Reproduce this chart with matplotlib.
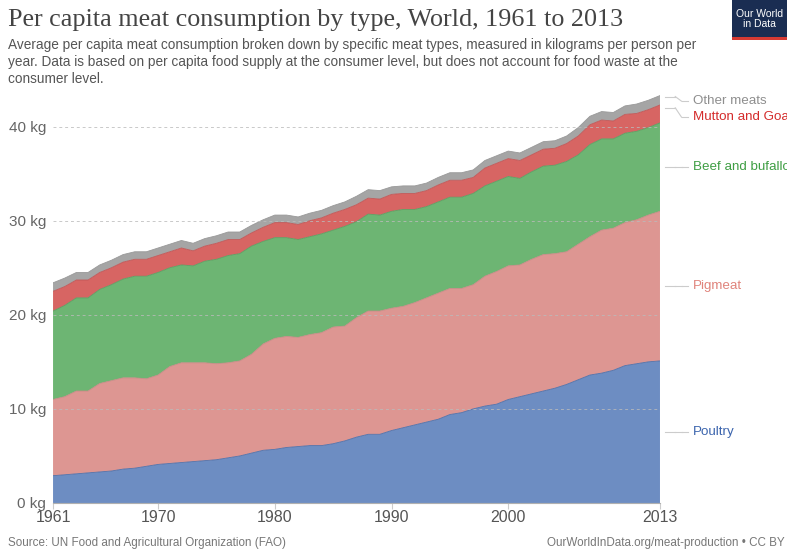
import numpy as np
import matplotlib
matplotlib.use("Agg")
import matplotlib.pyplot as plt
from matplotlib.patches import Rectangle

plt.rcParams["font.family"] = ["Liberation Sans", "DejaVu Sans"]

# ---------------------------------------------------------------- data (kg per person per year)
years = list(range(1961, 2014))

poultry = [2.9, 3.0, 3.1, 3.2, 3.3, 3.4, 3.6, 3.7, 3.9, 4.1,
           4.2, 4.3, 4.4, 4.5, 4.6, 4.8, 5.0, 5.3, 5.6, 5.7,
           5.9, 6.0, 6.1, 6.1, 6.3, 6.6, 7.0, 7.3, 7.3, 7.7,
           8.0, 8.3, 8.6, 8.9, 9.4, 9.6, 10.0, 10.3, 10.5, 11.0,
           11.3, 11.6, 11.9, 12.2, 12.6, 13.1, 13.6, 13.8, 14.1, 14.6,
           14.8, 15.0, 15.1]
pigmeat = [8.1, 8.3, 8.8, 8.7, 9.4, 9.6, 9.7, 9.6, 9.3, 9.5,
           10.3, 10.6, 10.5, 10.4, 10.2, 10.1, 10.1, 10.5, 11.3, 11.8,
           11.8, 11.6, 11.8, 12.0, 12.4, 12.2, 12.7, 13.1, 13.1, 13.0,
           12.9, 13.0, 13.2, 13.4, 13.4, 13.2, 13.2, 13.8, 14.1, 14.2,
           14.0, 14.3, 14.5, 14.3, 14.1, 14.4, 14.7, 15.2, 15.1, 15.2,
           15.3, 15.6, 15.9]
beef = [9.4, 9.7, 9.9, 9.9, 10.0, 10.2, 10.5, 10.8, 10.9, 10.9,
        10.5, 10.4, 10.3, 10.8, 11.1, 11.4, 11.4, 11.5, 10.9, 10.7,
        10.5, 10.4, 10.4, 10.5, 10.3, 10.6, 10.2, 10.3, 10.2, 10.3,
        10.3, 9.9, 9.7, 9.7, 9.7, 9.7, 9.7, 9.6, 9.6, 9.5,
        9.2, 9.3, 9.4, 9.4, 9.6, 9.5, 9.8, 9.7, 9.5, 9.5,
        9.4, 9.3, 9.4]
mutton = [2.1, 2.0, 1.9, 1.9, 1.8, 1.8, 1.8, 1.8, 1.8, 1.8,
          1.7, 1.8, 1.6, 1.6, 1.7, 1.7, 1.5, 1.4, 1.5, 1.6,
          1.6, 1.6, 1.7, 1.7, 1.8, 1.8, 1.8, 1.7, 1.7, 1.8,
          1.7, 1.7, 1.7, 1.8, 1.8, 1.8, 1.7, 1.9, 1.9, 1.9,
          1.9, 1.8, 1.8, 1.8, 1.9, 2.0, 2.1, 2.0, 1.9, 2.0,
          1.9, 1.9, 1.9]
other = [0.9, 0.9, 0.8, 0.8, 0.8, 0.8, 0.8, 0.8, 0.8, 0.8,
         0.8, 0.8, 0.8, 0.8, 0.8, 0.8, 0.8, 0.8, 0.8, 0.8,
         0.8, 0.8, 0.8, 0.8, 0.8, 0.8, 0.9, 0.9, 0.9, 0.8,
         0.8, 0.8, 0.8, 0.8, 0.8, 0.8, 0.8, 0.8, 0.8, 0.8,
         0.8, 0.8, 0.8, 0.8, 0.8, 0.9, 0.9, 0.9, 0.9, 0.9,
         1.0, 1.0, 1.0]

names = ["Poultry", "Pigmeat", "Beef and bufallo", "Mutton and Goat", "Other meats"]
fills = ["#6d8dc2", "#dd9692", "#6db573", "#d76563", "#a5a5a5"]
text_cols = ["#3b64ad", "#e0837b", "#3f9e44", "#d42b2b", "#8e8e8e"]
edges = ["#4f6fa8", "#c98a86", "#5a9e60", "#c05555", "#999999"]

# ---------------------------------------------------------------- figure
fig = plt.figure(figsize=(7.87, 5.52), dpi=100)
ax = fig.add_axes([0.0674, 0.0888, 0.7712, 0.75])

series = [poultry, pigmeat, beef, mutton, other]
ax.stackplot(years, *series, colors=fills, lw=0.5, zorder=2)
base = np.zeros(len(years))
for s, ec in zip(series, edges):
    base = base + np.array(s)
    ax.plot(years, base, color=ec, lw=0.6, zorder=3)

ax.set_xlim(1961, 2013)
ax.set_ylim(0, 44)
for sp in ["top", "right", "left"]:
    ax.spines[sp].set_visible(False)
ax.spines["bottom"].set_color("#b0b0b0")
ax.set_yticks([0, 10, 20, 30, 40])
ax.set_yticklabels(["0 kg", "10 kg", "20 kg", "30 kg", "40 kg"])
ax.set_xticks([1961, 1970, 1980, 1990, 2000, 2013])
ax.tick_params(axis="y", length=0, labelsize=11, labelcolor="#666666", pad=5)
ax.tick_params(axis="x", length=4, color="#cccccc", labelsize=11.5, labelcolor="#555555", pad=1)
for v in [10, 20, 30, 40]:
    ax.axhline(v, color="#bbbbbb", lw=0.7, ls=(0, (3, 3)), zorder=4, alpha=0.8)

# right-hand labels with short connector lines
tops = np.cumsum([s[-1] for s in series])
lasts = np.array([s[-1] for s in series])
mids = tops - lasts / 2
marks = [mids[0], mids[1], mids[2], tops[3] - 0.3, tops[4] - 0.1]
label_y = [mids[0], mids[1], mids[2], 41.0, 42.7]
ycoord = lambda v: ax.transData.transform((2013, v))[1] / fig.bbox.height
for name, col, ym, yl in zip(names, text_cols, marks, label_y):
    y_lab = ycoord(yl)
    y_mark = ycoord(ym)
    fig.add_artist(plt.Line2D([0.845, 0.858], [y_mark, y_mark], color="#cccccc", lw=0.8))
    fig.add_artist(plt.Line2D([0.858, 0.866], [y_mark, y_lab], color="#cccccc", lw=0.8))
    fig.add_artist(plt.Line2D([0.866, 0.874], [y_lab, y_lab], color="#cccccc", lw=0.8))
    fig.text(0.881, y_lab, name, color=col, fontsize=9.6, va="center", ha="left")

# ---------------------------------------------------------------- titles and notes
fig.text(0.010, 0.963, "Per capita meat consumption by type, World, 1961 to 2013",
         family="Liberation Serif", fontsize=18.8, color="#444444", va="center")
fig.text(0.010, 0.888,
         "Average per capita meat consumption broken down by specific meat types, measured in kilograms per person per\n"
         "year. Data is based on per capita food supply at the consumer level, but does not account for food waste at the\n"
         "consumer level.",
         fontsize=9.8, color="#555555", va="center", linespacing=1.3)
fig.text(0.010, 0.016, "Source: UN Food and Agricultural Organization (FAO)",
         fontsize=8.4, color="#777777", va="center")
fig.text(0.997, 0.016, "OurWorldInData.org/meat-production \u2022 CC BY",
         fontsize=8.4, color="#777777", va="center", ha="right")

# logo
fig.add_artist(Rectangle((0.930, 0.933), 0.070, 0.067, transform=fig.transFigure,
                         facecolor="#1a2d52", edgecolor="none"))
fig.add_artist(Rectangle((0.930, 0.927), 0.070, 0.006, transform=fig.transFigure,
                         facecolor="#d63a33", edgecolor="none"))
fig.text(0.965, 0.966, "Our World\nin Data", color="white", fontsize=7.5,
         ha="center", va="center", linespacing=1.0)

fig.savefig("out.png", dpi=100)
